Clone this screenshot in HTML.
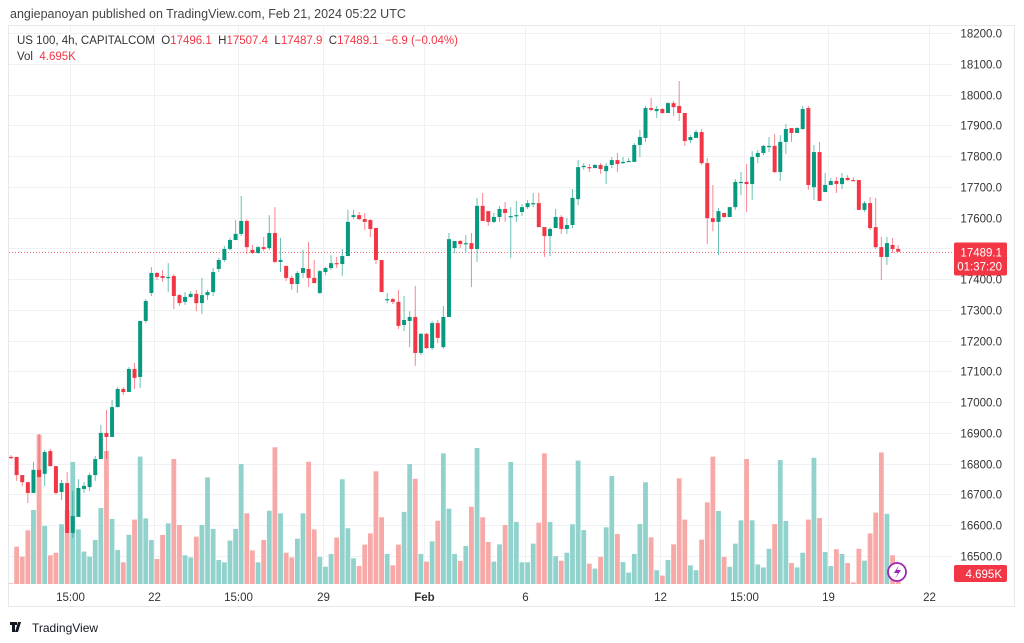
<!DOCTYPE html>
<html><head><meta charset="utf-8"><style>
html,body{margin:0;padding:0;background:#fff;width:1024px;height:643px;overflow:hidden;font-family:"Liberation Sans",sans-serif}
svg{position:absolute;left:0;top:0}
</style></head><body>
<svg id="chart" width="1024" height="643" viewBox="0 0 1024 643">
<text x="10" y="18" font-size="12.5" fill="#444">angiepanoyan published on TradingView.com, Feb 21, 2024 05:22 UTC</text>
<rect x="8.5" y="25.5" width="1006" height="581" fill="none" stroke="#e6e8ee"/>
<g id="grid"></g>
<g id="vol"></g>
<g id="candles"></g>
<g id="axes"></g>
<text x="17" y="44" font-size="11.5" fill="#333">US 100, 4h, CAPITALCOM&#160;&#160;O<tspan fill="#f23645">17496.1</tspan>&#160;&#160;H<tspan fill="#f23645">17507.4</tspan>&#160;&#160;L<tspan fill="#f23645">17487.9</tspan>&#160;&#160;C<tspan fill="#f23645">17489.1&#160;&#160;−6.9 (−0.04%)</tspan></text>
<text x="17" y="60" font-size="11.5" fill="#333">Vol&#160;&#160;<tspan fill="#f23645">4.695K</tspan></text>
<g><circle cx="897" cy="572" r="9" fill="#fff" stroke="#9c27b0" stroke-width="1.8"/><path d="M899 565 L894 573 L898 573 L895 579 L901 570 L897 570 Z" fill="#9c27b0"/></g>
<g><path d="M10 622h7v3h-2v7h-3v-7h-2z M18 622h3l-3 10h-3z" fill="#131722"/><text x="32" y="632" font-size="12" fill="#131722">TradingView</text></g>
</svg>
<script>
const opens=[16822,16822,16763,16740,16705,16780,16767,16841,16792,16708,16737,16575,16627,16718,16724,16763,16815,16900,16887,16984,17043,17033,17108,17082,17264,17355,17420,17410,17404,17410,17348,17326,17342,17352,17322,17348,17358,17433,17462,17498,17527,17547,17589,17495,17485,17504,17501,17550,17456,17443,17404,17384,17420,17433,17404,17355,17423,17436,17452,17449,17475,17602,17608,17595,17592,17566,17462,17332,17335,17326,17251,17264,17277,17160,17222,17176,17257,17179,17277,17501,17524,17517,17517,17498,17638,17621,17586,17602,17628,17602,17605,17618,17634,17647,17647,17569,17540,17566,17602,17563,17576,17660,17768,17764,17761,17771,17751,17771,17787,17777,17781,17781,17836,17859,17956,17946,17953,17940,17972,17963,17940,17852,17859,17878,17777,17598,17586,17615,17602,17634,17716,17716,17709,17797,17810,17833,17833,17748,17846,17891,17875,17888,17956,17699,17813,17683,17706,17719,17709,17729,17722,17722,17625,17647,17569,17504,17472,17511,17498];
const closes=[16819,16763,16740,16705,16780,16757,16838,16792,16705,16737,16575,16630,16721,16728,16763,16815,16900,16887,16984,17043,17033,17108,17079,17264,17329,17420,17407,17404,17407,17345,17322,17342,17352,17322,17348,17358,17423,17462,17498,17527,17547,17589,17504,17485,17504,17498,17550,17456,17462,17404,17384,17420,17436,17404,17387,17426,17436,17452,17449,17475,17586,17608,17595,17586,17563,17462,17358,17335,17326,17248,17267,17277,17160,17222,17176,17257,17209,17277,17530,17524,17514,17517,17498,17638,17589,17586,17602,17628,17615,17605,17608,17634,17647,17647,17569,17540,17563,17602,17563,17576,17664,17764,17768,17761,17771,17758,17768,17787,17774,17781,17784,17836,17862,17956,17950,17953,17940,17972,17959,17940,17849,17862,17878,17777,17598,17586,17621,17602,17634,17716,17716,17709,17797,17810,17833,17833,17748,17846,17888,17875,17891,17953,17706,17813,17654,17706,17719,17709,17729,17722,17719,17625,17647,17566,17504,17472,17517,17498,17489.1];
const highs=[16828,16822,16763,16740,16806,16897,16844,16848,16792,16747,16773,16711,16750,16740,16770,16825,16926,16975,17007,17049,17049,17114,17127,17264,17335,17439,17423,17430,17452,17417,17352,17358,17361,17365,17404,17365,17436,17469,17508,17534,17592,17670,17595,17511,17508,17537,17608,17634,17534,17443,17410,17426,17495,17521,17462,17430,17439,17478,17472,17498,17625,17625,17618,17615,17595,17566,17462,17355,17339,17365,17345,17296,17378,17225,17225,17264,17267,17313,17550,17524,17527,17543,17550,17664,17680,17621,17615,17638,17651,17634,17654,17644,17657,17680,17680,17569,17569,17628,17608,17599,17693,17787,17777,17774,17774,17777,17777,17797,17810,17797,17794,17842,17885,17963,17989,17963,17956,17976,17979,18044,17940,17868,17885,17888,17794,17706,17631,17615,17634,17725,17748,17774,17816,17820,17836,17862,17872,17868,17904,17891,17894,17963,17963,17836,17846,17745,17729,17732,17745,17738,17732,17722,17654,17667,17664,17537,17537,17534,17511];
const lows=[16815,16744,16727,16672,16705,16754,16727,16792,16699,16682,16575,16559,16627,16705,16711,16744,16815,16815,16887,16984,17023,17033,17043,17046,17257,17345,17397,17391,17358,17303,17313,17316,17339,17296,17287,17332,17345,17423,17456,17494,17527,17540,17482,17482,17482,17491,17494,17452,17423,17394,17365,17355,17404,17374,17387,17352,17413,17430,17436,17410,17475,17595,17592,17560,17537,17449,17358,17322,17319,17238,17231,17179,17118,17153,17173,17170,17192,17173,17277,17485,17501,17488,17374,17456,17589,17573,17582,17586,17586,17469,17586,17605,17628,17634,17569,17472,17475,17566,17547,17547,17566,17641,17755,17748,17761,17742,17709,17761,17748,17774,17781,17781,17797,17846,17946,17924,17937,17940,17930,17914,17833,17842,17859,17771,17514,17556,17478,17599,17602,17625,17673,17618,17657,17777,17803,17813,17745,17719,17807,17846,17875,17885,17690,17657,17654,17683,17706,17680,17693,17719,17719,17625,17618,17560,17498,17397,17446,17485,17489];
const volumes=[0.3,16,11.7,23,31.7,64,24.9,12.3,13.4,25.6,31.6,52.3,23.4,13.9,11.7,18.9,32.6,57,27.9,14.6,9.3,21.1,27.6,54.6,28.1,18.9,10.7,21,26,53.6,25.3,12.3,11.4,20.3,25.3,45.7,23.6,10.3,9.3,18.6,23.6,51.4,30.3,14.4,9.3,18.9,31.4,58.6,30.3,13.4,11.4,19.4,30.3,52.4,23.4,11.6,7.4,12.9,19.9,44.9,23.9,11,7.7,16.9,21.7,48.3,28.6,12.9,8,16.9,30.9,51.4,45.1,12.9,9.6,18.3,27.1,56,32.3,12.9,9.9,16.3,33.1,58.3,28.6,18,9.6,17,25.3,52.3,26.6,9.3,9.3,17.3,26.3,56,26.6,11.9,10,13.4,25.6,52.9,23.1,8.7,6.6,11.6,24.3,46.3,21.4,9.4,4.9,12.9,25.7,43.6,20,5.9,3.6,10.3,17,45.3,27.6,8,5.9,19,35,54.6,31.3,11.6,7.4,17.3,27.3,53.6,27.3,8.4,7.1,15.1,25.7,53.1,27,9,7.1,13.4,27.6,54.1,28.3,13.7,7.7,14.9,12.9,9,0.7,15.1,10,21.7,30.6,56.4,30.1,12.3,1.7];
const priceTicks=[18200,18100,18000,17900,17800,17700,17600,17500,17400,17300,17200,17100,17000,16900,16800,16700,16600,16500];
const timeLabels=["15:00","22","15:00","29","Feb","6","12","15:00","19","22"];
const timeLabelIndex=[10.5,25.5,40.5,55.5,73.5,91.5,115.5,130.5,145.5,163.5];

const NS="http://www.w3.org/2000/svg";
const X0=11, STEP=5.615, PLOT_R=953;
function xAt(i){return X0+i*STEP;}
function yAt(p){return 33+(18200-p)*523/1700;}
function hVol(v){return v*7/3;}
const VOL_BASE=584;
function mk(tag,attrs,parent){const e=document.createElementNS(NS,tag);for(const k in attrs)e.setAttribute(k,attrs[k]);parent.appendChild(e);return e;}
const grid=document.getElementById('grid'),vol=document.getElementById('vol'),cg=document.getElementById('candles'),axes=document.getElementById('axes');

priceTicks.forEach(p=>{
  const y=Math.round(yAt(p))+0.5;
  const l=mk('line',{x1:9,x2:PLOT_R,y1:y,y2:y,stroke:'#f0f1f4','stroke-width':1},grid);
  
  
  const t=mk('text',{x:1002,y:y+4,'font-size':11.5,fill:'#333','text-anchor':'end'},axes);
  t.textContent=p.toFixed(1);
  
  
});
timeLabels.forEach((s,k)=>{
  const x=Math.round(xAt(timeLabelIndex[k]))+0.5;
  const l=mk('line',{x1:x,x2:x,y1:26,y2:585,stroke:'#f0f1f4','stroke-width':1},grid);
  
  
  const t=mk('text',{x:x,y:601,'font-size':11.5,fill:'#333','text-anchor':'middle','font-weight':s==='Feb'?'bold':'normal'},axes);
  t.textContent=s;
  
  
});

volumes.forEach((v,i)=>{
  const up=closes[i]>=opens[i];
  const h=hVol(v);
  const r=mk('rect',{x:xAt(i)-2.4,y:VOL_BASE-h,width:4.8,height:h,fill:up?'#92d2cc':'#f7a9a7'},vol);
  
  
});

const lp=closes[closes.length-1];
const ly=Math.round(yAt(lp))+0.5;
const dl=mk('line',{x1:9,x2:953,y1:ly,y2:ly,stroke:'#f23645','stroke-width':1,'stroke-dasharray':'1 2',opacity:0.7},grid);



opens.forEach((o,i)=>{
  const c=closes[i],up=c>=o,col=up?'#089981':'#f23645',x=xAt(i);
  const w=mk('line',{x1:x,x2:x,y1:yAt(highs[i]),y2:yAt(lows[i]),stroke:col,'stroke-width':1,opacity:0.6},cg);
  
  
  const top=yAt(Math.max(o,c)),bh=Math.max(1.2,yAt(Math.min(o,c))-top);
  const b=mk('rect',{x:x-2,y:top,width:4,height:bh,fill:col},cg);
  
  
});

const bx=mk('rect',{x:954,y:ly-10,width:53,height:33,rx:2,fill:'#f23645'},axes);


const t1=mk('text',{x:1002,y:ly+4,'font-size':11.5,fill:'#fff','text-anchor':'end'},axes);
t1.textContent=lp.toFixed(1);


const t2=mk('text',{x:1002,y:ly+18,'font-size':11.5,fill:'#fff','text-anchor':'end'},axes);
t2.textContent='01:37:20';


const vb=mk('rect',{x:954,y:565,width:53,height:17,rx:2,fill:'#f23645'},axes);


const vt=mk('text',{x:1002,y:578,'font-size':11.5,fill:'#fff','text-anchor':'end'},axes);
vt.textContent='4.695K';


</script>
</body></html>
